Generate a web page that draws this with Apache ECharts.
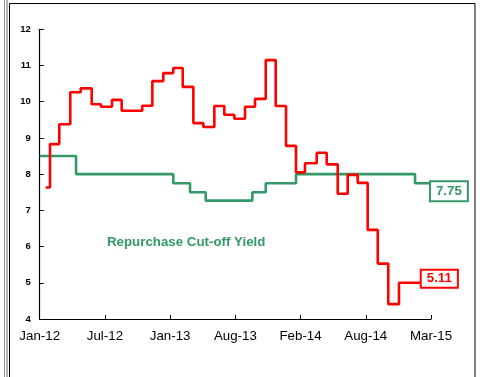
<!doctype html>
<html>
	<head>
		<meta charset="UTF-8">
		<title></title>
		<style type="text/css">
			html, body{
				margin: 0px;
				padding: 0px;
				background: #fff;
			}
			#chart{
				width: 482px;
				height: 377px;
			}
		</style>
	</head>
	<body>
		<div id="chart"></div>
		<script src="https://cdn.jsdelivr.net/npm/echarts/dist/echarts.min.js"></script>
		<script type="text/javascript">
			// x axis is months since Jan-12
			var xLabels = ['Jan-12', 'Jul-12', 'Jan-13', 'Aug-13', 'Feb-14', 'Aug-14', 'Mar-15'];
			var xMax = 38;

			// red series: month where each level starts, and the level
			var redMonths = [0.58, 1.0, 1.9, 2.97, 3.98, 5.05, 5.95, 7.02, 7.96, 9.96, 10.94, 12.0, 12.97, 13.89, 14.92, 15.89, 16.96, 17.93,
				18.9, 19.94, 20.91, 21.95, 22.92, 23.92, 24.89, 25.76, 26.9, 27.87, 28.94, 29.91, 30.88, 31.85, 32.83, 33.85, 34.89, 37.1];
			var redValues = [7.63, 8.83, 9.38, 10.26, 10.37, 9.93, 9.86, 10.05, 9.75, 9.89, 10.57, 10.79, 10.93, 10.41, 9.41, 9.30, 9.88, 9.64,
				9.53, 9.86, 10.08, 11.15, 9.88, 8.78, 8.05, 8.30, 8.59, 8.27, 7.46, 7.98, 7.76, 6.46, 5.53, 4.41, 5.0, 5.0];
			var redLast = '5.11';

			// green series: repurchase cut-off yield
			var greenMonths = [0, 3.53, 12.97, 14.6, 16.12, 20.65, 21.95, 24.89, 36.45, 37.9];
			var greenValues = [8.5, 8.0, 7.75, 7.5, 7.27, 7.5, 7.75, 8.0, 7.75, 7.75];
			var greenLast = '7.75';
			var greenName = 'Repurchase Cut-off Yield';

			function pairs(xs, ys){
				var out = [];
				for (var i = 0; i < xs.length; i++) {
					out.push([xs[i], ys[i]]);
				}
				return out;
			}

			var red = '#ff0000';
			var green = '#339966';
			var font = 'Liberation Sans';

			var chart = echarts.init(document.getElementById('chart'));
			var option = {
				animation: false,
				backgroundColor: '#fff',
				textStyle: { fontFamily: font },
				grid: {
					left: 39.7,
					right: 51,
					top: 29.3,
					bottom: 58
				},
				graphic: [
					{ type: 'line', shape: { x1: 4.5, y1: 0, x2: 4.5, y2: 377 }, style: { stroke: '#999', lineWidth: 1 } },
					{ type: 'line', shape: { x1: 7, y1: 0, x2: 7, y2: 377 }, style: { stroke: '#666', lineWidth: 1 } },
					{ type: 'rect', shape: { x: 9.5, y: 3.5, width: 465.5, height: 400 }, style: { fill: 'none', stroke: '#000', lineWidth: 1 } },
					{
						type: 'text', left: 107, top: 235.5,
						style: { text: greenName, fill: green, font: 'bold 13.3px ' + font }
					}
				],
				xAxis: {
					type: 'value',
					min: 0,
					max: xMax,
					interval: xMax / 6,
					splitLine: { show: false },
					axisLine: { lineStyle: { color: '#000', width: 1.2 } },
					axisTick: { inside: true, length: 4, lineStyle: { color: '#000' } },
					axisLabel: {
						margin: 11,
						fontSize: 13.3,
						color: '#000',
						formatter: function (v) {
							return xLabels[Math.round(v / (xMax / 6))];
						}
					}
				},
				yAxis: {
					type: 'value',
					min: 4,
					max: 12,
					interval: 1,
					splitLine: { show: false },
					axisLine: { show: true, lineStyle: { color: '#000', width: 1.2 } },
					axisTick: { show: true, inside: true, length: 4, lineStyle: { color: '#000' } },
					axisLabel: {
						margin: 9,
						fontSize: 9.5,
						fontWeight: 'bold',
						color: '#000'
					}
				},
				series: [{
					name: greenName,
					type: 'line',
					step: 'end',
					symbol: 'none',
					z: 2,
					lineStyle: { color: green, width: 2.6 },
					data: pairs(greenMonths, greenValues),
					endLabel: {
						show: true,
						formatter: function () { return greenLast; },
						color: green,
						fontWeight: 'bold',
						fontSize: 13.3,
						backgroundColor: '#fff',
						borderColor: green,
						borderWidth: 2,
						padding: [3, 5, 2, 5],
						distance: 1,
						offset: [0, 8]
					}
				}, {
					name: 'Yield',
					type: 'line',
					step: 'end',
					symbol: 'none',
					z: 3,
					lineStyle: { color: red, width: 2.6 },
					data: pairs(redMonths, redValues),
					endLabel: {
						show: true,
						formatter: function () { return redLast; },
						color: red,
						fontWeight: 'bold',
						fontSize: 13.3,
						backgroundColor: '#fff',
						borderColor: red,
						borderWidth: 2,
						padding: [2, 5, 1, 5],
						distance: 0,
						offset: [0, -4]
					}
				}]
			};
			chart.setOption(option);
		</script>
	</body>
</html>
